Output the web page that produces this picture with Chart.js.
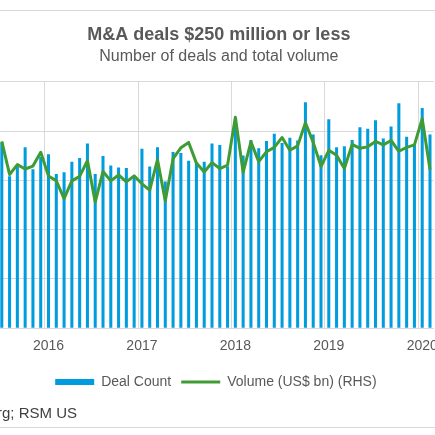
<!DOCTYPE html>
<html>
<head>
<meta charset="utf-8">
<script src="https://cdn.jsdelivr.net/npm/chart.js@4.4.1/dist/chart.umd.min.js"></script>
<style>
  body { margin: 0; background: #fff; overflow: hidden; }
  #pagina { position: relative; width: 435px; height: 435px; overflow: hidden; }
  #caixa { position: absolute; left: -10px; top: 0; width: 450px; height: 435px; }
  .borda { position: absolute; left: 0; width: 435px; height: 0; border-top: 1px solid #d9d9d9; }
  #fonte { position: absolute; right: 358px; top: 404px; white-space: nowrap;
           font: 15px "Liberation Sans", Arial, sans-serif; color: #404040; line-height: 18px; }
</style>
</head>
<body>
<div id="pagina">
  <div class="borda" style="top: 10px"></div>
  <div id="caixa"><canvas id="chart-deals"></canvas></div>
  <div id="fonte">Source: Bloomberg; RSM US</div>
  <div class="borda" style="top: 427px"></div>
</div>

<script>

// DADOS //

var meses = [
  "Jul 2015", "Aug 2015", "Sep 2015", "Oct 2015", "Nov 2015", "Dec 2015",
  "Jan 2016", "Feb 2016", "Mar 2016", "Apr 2016", "May 2016", "Jun 2016",
  "Jul 2016", "Aug 2016", "Sep 2016", "Oct 2016", "Nov 2016", "Dec 2016",
  "Jan 2017", "Feb 2017", "Mar 2017", "Apr 2017", "May 2017", "Jun 2017",
  "Jul 2017", "Aug 2017", "Sep 2017", "Oct 2017", "Nov 2017", "Dec 2017",
  "Jan 2018", "Feb 2018", "Mar 2018", "Apr 2018", "May 2018", "Jun 2018",
  "Jul 2018", "Aug 2018", "Sep 2018", "Oct 2018", "Nov 2018", "Dec 2018",
  "Jan 2019", "Feb 2019", "Mar 2019", "Apr 2019", "May 2019", "Jun 2019",
  "Jul 2019", "Aug 2019", "Sep 2019", "Oct 2019", "Nov 2019", "Dec 2019",
  "Jan 2020", "Feb 2020"
]

var dealCount = [
  754, 617, 656, 734, 645, 695,
  706, 626, 633, 676, 691, 750, 626, 699, 660, 652, 650, 613,
  728, 656, 734, 595, 715, 711, 680, 673, 676, 750, 743, 656,
  820, 701, 764, 730, 760, 789, 752, 773, 762, 917, 786, 702,
  848, 734, 738, 764, 816, 809, 844, 770, 819, 913, 777, 748,
  894, 786
]

var volume = [
  37.9, 31.2, 33.2, 32.3, 32.9, 35.7,
  30.9, 29.9, 26.3, 29.9, 30.8, 34.0, 25.6, 31.8, 29.9, 31.1, 29.7, 30.9,
  29.3, 28.0, 34.2, 25.8, 34.4, 36.6, 37.7, 33.5, 31.7, 33.6, 32.4, 33.1,
  42.8, 31.6, 37.8, 33.8, 35.8, 36.7, 38.7, 36.1, 37.0, 41.7, 37.7, 32.8,
  36.1, 35.1, 32.4, 37.3, 36.5, 36.8, 37.9, 37.2, 38.1, 35.9, 36.7, 37.2,
  42.5, 32.2
]

var eixoEsquerdo = { min: 0, max: 1000, passo: 200 }
var eixoDireito = { min: 0, max: 50 }


// CHART JS //

Chart.defaults.font.family = "'Liberation Sans', Arial, sans-serif"
Chart.defaults.color = "#595959"

const ctd = document.getElementById("chart-deals");

new Chart(ctd, {
  type: "bar",
  data: {
    labels: meses,
    datasets: [
      {
        label: "Deal Count",
        data: dealCount,
        backgroundColor: "#009CDE",
        borderWidth: 0,
        categoryPercentage: 1,
        barPercentage: 0.39,
        pointStyle: "rect",
        yAxisID: "y",
        order: 1
      },
      {
        type: "line",
        label: "Volume (US$ bn) (RHS)",
        data: volume,
        borderColor: "#3F9C35",
        backgroundColor: "#3F9C35",
        borderWidth: 3,
        borderJoinStyle: "round",
        pointRadius: 0,
        pointStyle: "line",
        tension: 0,
        yAxisID: "y1",
        order: 0
      }
    ]
  },
  options: {
    animation: false,
    responsive: true,
    maintainAspectRatio: false,
    layout: {
      padding: { top: 0, left: 7.9, right: 0.2, bottom: 36 }
    },
    plugins: {
      title: {
        display: true,
        text: "M&A deals $250 million or less",
        font: { size: 18, weight: "bold" },
        color: "#595959",
        padding: { top: 24, bottom: 0 }
      },
      subtitle: {
        display: true,
        text: "Number of deals and total volume",
        font: { size: 16 },
        color: "#595959",
        padding: { top: 1, bottom: 16 }
      },
      legend: {
        position: "bottom",
        fullSize: false,
        labels: {
          usePointStyle: true,
          pointStyleWidth: 39,
          boxHeight: 6,
          padding: 10,
          font: { size: 14 },
          color: "#595959",
          sort: function (a, b) { return a.datasetIndex - b.datasetIndex }
        }
      },
      tooltip: { enabled: false }
    },
    scales: {
      x: {
        grid: {
          offset: true,
          drawTicks: false,
          color: function (context) {
            var rotulo = meses[context.index]
            if (rotulo && rotulo.startsWith("Jan")) {
              return "#d9d9d9"
            }
            return "rgba(0,0,0,0)"
          }
        },
        border: { color: "#d9d9d9" },
        ticks: {
          autoSkip: false,
          maxRotation: 0,
          padding: 10,
          font: { size: 14 },
          color: "#595959",
          callback: function (value, index) {
            var rotulo = meses[index]
            if (rotulo.startsWith("Jan")) {
              return rotulo.slice(4)
            }
            return ""
          }
        }
      },
      y: {
        position: "left",
        min: eixoEsquerdo.min,
        max: eixoEsquerdo.max,
        grid: { color: "#d9d9d9", drawTicks: false },
        border: { display: false },
        ticks: { display: false, stepSize: eixoEsquerdo.passo }
      },
      y1: {
        position: "right",
        display: false,
        min: eixoDireito.min,
        max: eixoDireito.max
      }
    }
  }
});

</script>
</body>
</html>
